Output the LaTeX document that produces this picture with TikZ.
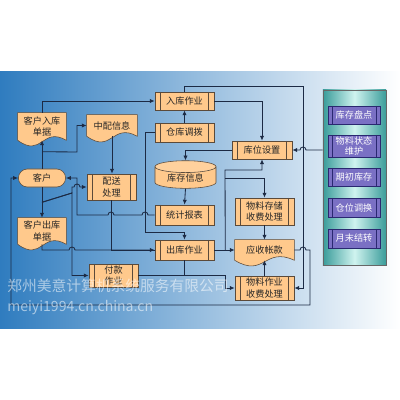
\documentclass[tikz,border=0pt]{standalone}
\usepackage{fontspec}
\setmainfont{Noto Sans CJK SC}
\usetikzlibrary{arrows.meta,positioning,shapes.geometric,shapes.misc,calc}

\definecolor{boxfill}{HTML}{FFC98C}
\definecolor{boxline}{HTML}{5B4A3A}
\definecolor{flowline}{HTML}{1C2A44}
\definecolor{bandleft}{HTML}{2F7CBF}
\definecolor{tealedge}{HTML}{3A9C9A}
\definecolor{tealmid}{HTML}{CFF3EF}
\definecolor{subfill}{HTML}{7A70C4}
\definecolor{subline}{HTML}{2A2870}

\pgfdeclarelayer{back}
\pgfdeclarelayer{docs}
\pgfsetlayers{back,docs,main}

\tikzset{
  txt/.style={font=\fontsize{6.5}{8}\selectfont,text=black!85,align=center,inner sep=1pt},
  procbox/.style={txt,draw=boxline,fill=boxfill,minimum width=1.475cm,minimum height=0.475cm,
    path picture={\draw[boxline]
      ([xshift=0.14cm]path picture bounding box.north west) -- ([xshift=0.14cm]path picture bounding box.south west)
      ([xshift=-0.14cm]path picture bounding box.north east) -- ([xshift=-0.14cm]path picture bounding box.south east);}},
  docbox/.style={txt,rectangle},
  termbox/.style={txt,rounded rectangle,draw=boxline,fill=boxfill,minimum width=1.25cm,minimum height=0.45cm},
  dbbox/.style={txt,cylinder,shape border rotate=90,aspect=0.3,draw=boxline,
    cylinder uses custom fill,cylinder body fill=boxfill,cylinder end fill=boxfill!85!white,
    minimum width=1.525cm,minimum height=0.675cm},
  panelbox/.style={draw=black!60,left color=tealedge,right color=tealedge,middle color=tealmid,
    minimum width=1.575cm,minimum height=4.375cm},
  subbox/.style={font=\fontsize{6.5}{7.5}\selectfont,text=white,align=center,inner sep=1pt,
    draw=subline,fill=subfill,minimum width=1.3cm,minimum height=0.45cm,
    path picture={\draw[subline]
      ([xshift=0.1cm]path picture bounding box.north west) -- ([xshift=0.1cm]path picture bounding box.south west)
      ([xshift=-0.1cm]path picture bounding box.north east) -- ([xshift=-0.1cm]path picture bounding box.south east);}},
  flow/.style={draw=flowline,line width=0.6pt,-{Latex[length=3.5pt,width=3pt]}},
  plainline/.style={draw=flowline,line width=0.6pt},
  wmark/.style={text=white,text opacity=0.55,inner sep=0pt,anchor=west}
}

% document shape with wavy bottom
\newcommand\docshape[1]{%
  \filldraw[boxline,fill=boxfill] (#1.south west) -- (#1.north west) -- (#1.north east) -- (#1.south east)
    .. controls ($(#1.south west)!0.5!(#1.south east)+(0,0.35cm)$) and ($(#1.south west)!0.5!(#1.south east)+(0,-0.45cm)$) .. (#1.south west) -- cycle;}

\begin{document}
\begin{tikzpicture}[x=0.025cm,y=-0.025cm]
  \useasboundingbox (0,0) rectangle (400,400);
  \begin{pgfonlayer}{back}
    \shade[left color=bandleft,right color=white] (0,72) rectangle (400,328);
  \end{pgfonlayer}

  % customer side
  \node[termbox] (kh) at (42,178) {客户};
  \node[docbox,minimum width=1.2cm,minimum height=0.675cm] (rkd) at (42,126.5) {客户入库\\单据};
  \node[docbox,minimum width=1.25cm,minimum height=0.525cm] (zpxx) at (112,125.5) {中配信息};
  \node[docbox,minimum width=1.2cm,minimum height=0.65cm] (ckd) at (42,231) {客户出库\\单据};
  \node[procbox,minimum width=1.225cm,minimum height=0.65cm] (psc) at (111.5,187) {配送\\处理};
  \node[procbox,minimum width=1.225cm,minimum height=0.575cm] (fk) at (113.5,275.5) {付款\\作业};

  % warehouse
  \node[procbox,minimum height=0.45cm] (rk) at (184.5,101) {入库作业};
  \node[procbox] (dbo) at (184.5,132.5) {仓库调拨};
  \node[procbox,minimum width=1.5cm,minimum height=0.45cm] (kwsz) at (262,150) {库位设置};
  \node[dbbox] (kcxx) at (185.5,178.5) {库存信息};
  \node[procbox,minimum height=0.5cm] (tjbb) at (184.5,215) {统计报表};
  \node[procbox,minimum height=0.5cm] (ckzy) at (184.5,250) {出库作业};

  % fees
  \node[procbox,minimum height=0.675cm] (wlcc) at (264.5,211.5) {物料存储\\收费处理};
  \node[docbox,minimum width=1.475cm,minimum height=0.5cm] (yszk) at (264.5,250) {应收帐款};
  \node[procbox,minimum height=0.6cm] (wlzy) at (264.5,288) {物料作业\\收费处理};

  \begin{pgfonlayer}{docs}
    \docshape{rkd}
    \docshape{zpxx}
    \docshape{ckd}
    \docshape{yszk}
  \end{pgfonlayer}

  % right panel
  \node[panelbox] (panel) at (354.5,177.5) {};
  \node[subbox] (p1) at (354,115) {库存盘点};
  \node[subbox,minimum height=0.55cm] (p2) at (354,146) {物料状态\\维护};
  \node[subbox] (p3) at (354,177) {期初库存};
  \node[subbox,minimum height=0.475cm] (p4) at (354,207.5) {仓位调换};
  \node[subbox,minimum height=0.475cm] (p5) at (354,238.5) {月末结转};

  % connectors
  \draw[flow] (kh.north) -- (kh.north |- rkd.south);
  \draw[flow] (rkd.north) |- (rk.west);
  \draw[flow] ($(kh.north)+(0,-17)$) -- (77,152) |- (zpxx.west);
  \draw[flow] (zpxx.south) -- (zpxx.south |- psc.north);
  \draw[flow] (kh.south) -- (ckd.north);
  \draw[flow] ($(kh.south)+(0,15)$) -- (72,193) -- (72,187) -- (74,187)
    arc[start angle=180,end angle=0,radius=0.075cm] -- (psc.west);
  \draw[flow] ($(kh.south)+(0,15)$) -- (72,193) |- (fk.west);
  \draw[flow] (tjbb.west) -- (148,215) arc[start angle=0,end angle=180,radius=0.075cm]
    -- (114,215) arc[start angle=0,end angle=180,radius=0.075cm] -- (77,215) |- (kh.east);
  \draw[flow] (ckd.south) -- (ckd.south |- ckzy.west) -- (69,250)
    arc[start angle=180,end angle=0,radius=0.075cm] -- (ckzy.west);
  \draw[plainline] (psc.south) |- (ckzy.west);
  \draw[flow] (rk.east) -| (kwsz.north);
  \draw[flow] (dbo.north) -- (rk.south);
  \draw[flow] (dbo.west) -- (145,132.5) -- (145,232) -| (ckzy.north);
  \draw[flow] (kwsz.west) -| (kcxx.north);
  \draw[flow] (kcxx.south) -- (tjbb.north);
  \draw[flow] (ckzy.east) -- (yszk.west);
  \draw[flow] ($(ckzy.east)+(11,0)$) -- (225,170) -| (kwsz.south);
  \draw[flow] (225,178) -| (wlcc.north);
  \draw[flow] (ckzy.south) |- (225,275.5) |- (wlzy.west);
  \draw[plainline] (fk.east) -- (fk.east -| ckzy.south);
  \draw[flow] (wlcc.south) -- (yszk.north);
  \draw[flow] (wlzy.north) -- (yszk.south);
  \draw[flow] (rk.north) |- (303,86) |- (wlzy.east);
  \draw[flow] (yszk.east) -- (300,250) arc[start angle=180,end angle=0,radius=0.075cm]
    -- (310,250) -- (310,305) -- (11,305) |- (kh.west);
  \draw[flow] (panel.west |- kwsz.east) -- (306,150)
    arc[start angle=0,end angle=180,radius=0.075cm] -- (kwsz.east);

  % watermark
  \node[wmark,font=\fontsize{10.5}{12}\selectfont] (wm1) at (7,286) {郑州美意计算机系统服务有限公司};
  \node[wmark,font=\fontsize{10}{12}\selectfont] (wm2) at (7,308) {meiyi1994.cn.china.cn};
\end{tikzpicture}
\end{document}
